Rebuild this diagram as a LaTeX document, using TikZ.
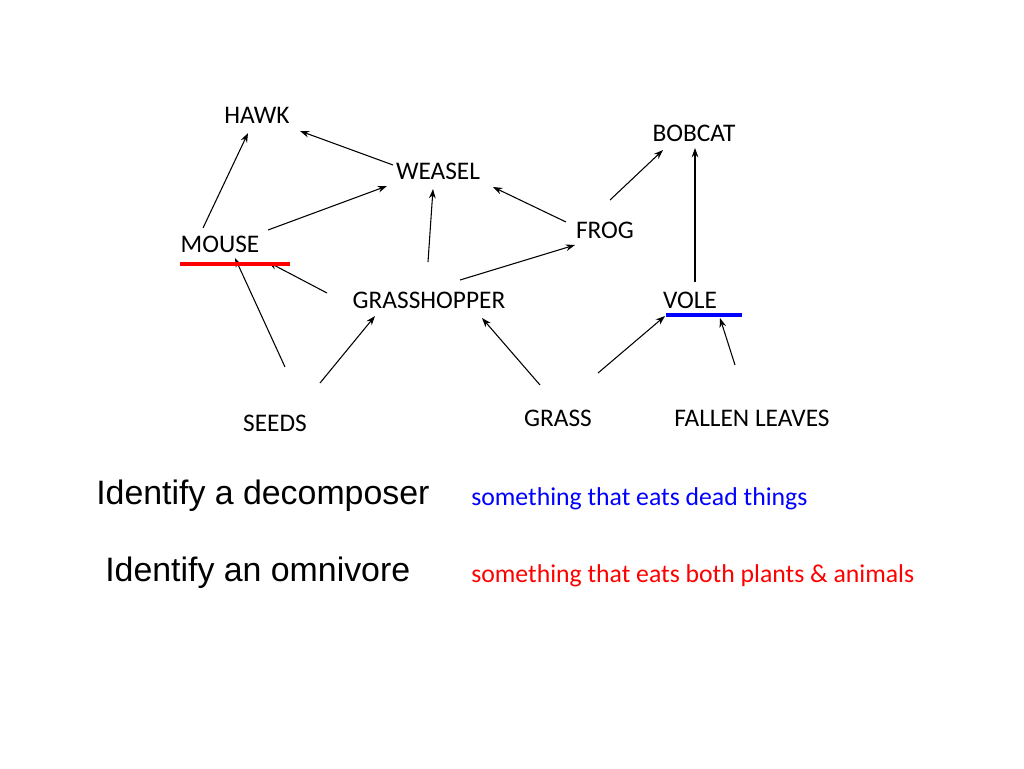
\documentclass[tikz,border=0pt]{standalone}
\usepackage{fontspec}
\setmainfont{Carlito}
\newfontfamily\arial{Liberation Sans}
\usetikzlibrary{arrows.meta}
\begin{document}
\begin{tikzpicture}[x=0.75pt,y=-0.75pt,
  lbl/.style={font=\fontsize{19}{22}\selectfont,inner sep=0pt},
  big/.style={font=\arial\fontsize{25.4}{30}\selectfont,inner sep=0pt,anchor=west},
  note/.style={font=\fontsize{19.3}{23}\selectfont,inner sep=0pt,anchor=west},
  eat/.style={-{Stealth[length=7pt,width=5pt]},line width=0.8pt}]
\useasboundingbox (0,0) rectangle (1024,768);
\node[lbl] (hawk) at (257,115) {HAWK};
\node[lbl] (bobcat) at (694,133) {BOBCAT};
\node[lbl] (weasel) at (438,171) {WEASEL};
\node[lbl] (frog) at (605,230) {FROG};
\node[lbl] (mouse) at (220,244) {MOUSE};
\node[lbl] (grasshopper) at (429,300) {GRASSHOPPER};
\node[lbl] (vole) at (690,300) {VOLE};
\node[lbl] (seeds) at (275,423) {SEEDS};
\node[lbl] (grass) at (558,418) {GRASS};
\node[lbl] (leaves) at (752,418) {FALLEN LEAVES};
\foreach \n/\x/\y in {a1/203/228,a2/248/133,b1/393/165,b2/300/131,c1/268/230,c2/387/186,
 d1/428/262,d2/433/189,e1/566/222,e2/493/187,f1/460/280,f2/575/245,g1/610/200,g2/663/150,
 h1/695/282,h2/695/148,i1/327/293,i2/268/262,j1/285/367,j2/235/258,k1/320/383,k2/375/316,
 l1/540/385,l2/482/318,m1/598/373,m2/665/316,n1/735/365,n2/720/318}
  \coordinate (\n) at (\x,\y);
\foreach \s in {a,b,c,d,e,f,g,h,i,j,k,l,m,n} \draw[eat] (\s1) -- (\s2);
\draw[red,line width=3pt] (180,264) -- (290,264);
\draw[blue,line width=3pt] (666,315) -- (742,315);
\node[big] (q1) at (96,496) {Identify a decomposer};
\node[big] (q2) at (105,573) {Identify an omnivore};
\node[note,blue] (n1) at (471,499) {something that eats dead things};
\node[note,red] (n2) at (471,576) {something that eats both plants \& animals};
\end{tikzpicture}
\end{document}
